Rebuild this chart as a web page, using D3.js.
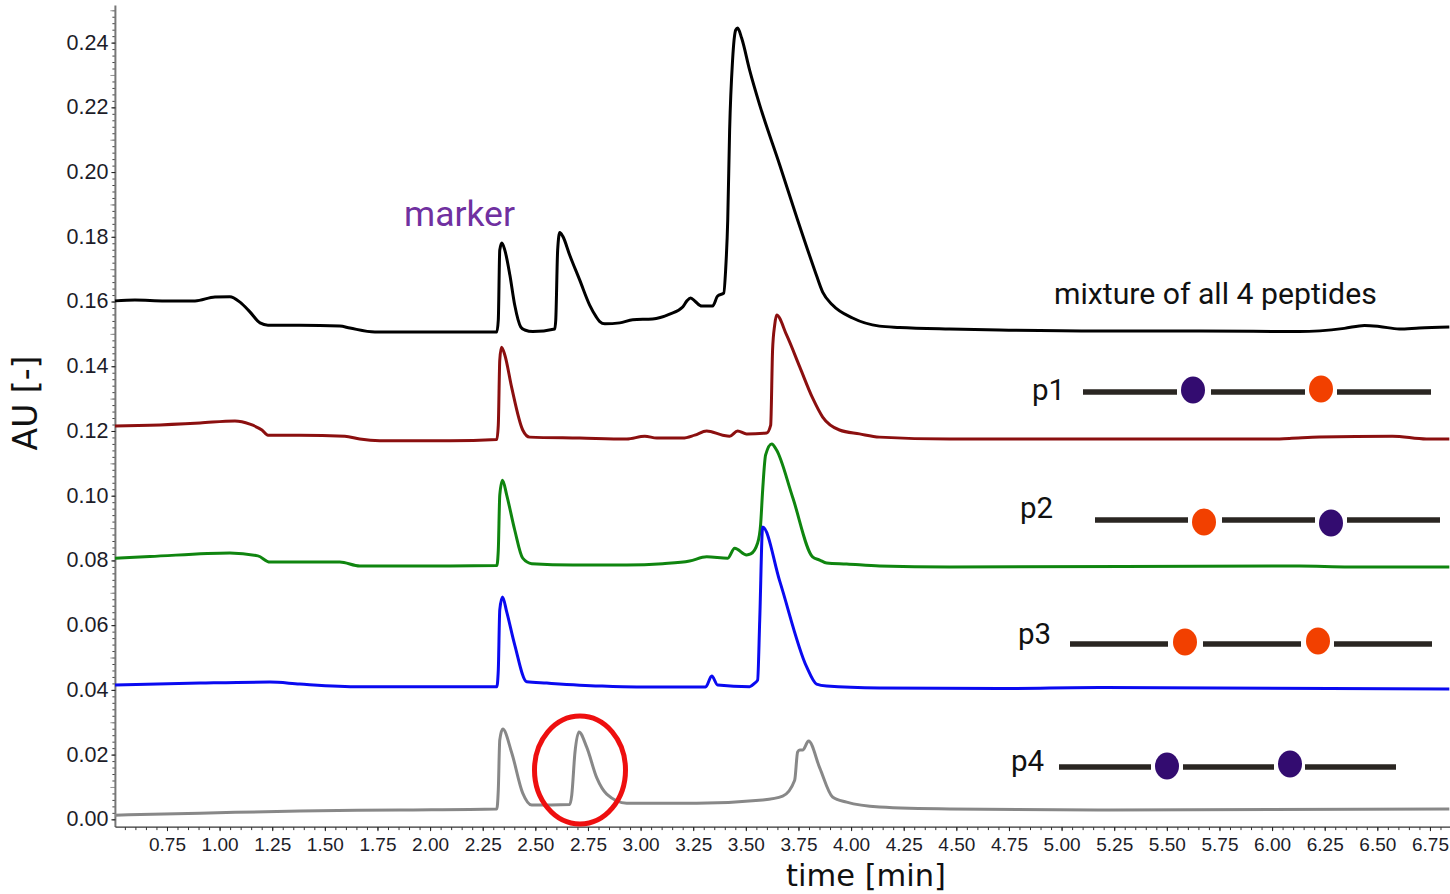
<!DOCTYPE html>
<html>
<head>
<meta charset="utf-8">
<script src="https://d3js.org/d3.v7.min.js"></script>
<style>
  html, body { margin: 0; background: #fff; }
  svg { display: block; }
  .note { font-family: Roboto, sans-serif; fill: #111; }
  .tick text { font-family: "Liberation Sans", Arial, sans-serif; fill: #1c1c28; }
</style>
</head>
<body>
<div id="chart"></div>
<script>
// Retention times (min) and absorbance (AU), one pair of arrays per trace
const mixTime = [0.503,0.598,0.740,0.883,0.978,1.049,1.097,1.144,1.192,1.230,1.381,1.571,1.619,1.738,2.094,2.317,2.324,2.331,2.341,2.355,2.379,2.402,2.431,2.450,2.488,2.592,2.597,2.606,2.616,2.630,2.663,2.711,2.758,2.790,2.806,2.830,2.901,2.963,3.057,3.138,3.200,3.220,3.238,3.260,3.290,3.342,3.366,3.395,3.404,3.414,3.423,3.437,3.452,3.461,3.480,3.518,3.566,3.661,3.746,3.827,3.865,3.912,4.007,4.135,4.230,4.468,4.705,5.180,5.655,6.130,6.343,6.439,6.509,6.604,6.699,6.842];
const mixAU = [0.1602,0.1605,0.1602,0.1602,0.1614,0.1615,0.1598,0.1568,0.1534,0.1527,0.1527,0.1524,0.1518,0.1506,0.1506,0.1506,0.1543,0.1759,0.1781,0.1759,0.1682,0.1589,0.1521,0.1512,0.1507,0.1515,0.1543,0.1759,0.1813,0.1802,0.1744,0.1666,0.1589,0.1552,0.1538,0.1531,0.1534,0.1544,0.1546,0.1561,0.1583,0.1602,0.1611,0.1600,0.1586,0.1586,0.1617,0.1626,0.1697,0.1852,0.2130,0.2346,0.2439,0.2445,0.2414,0.2315,0.2207,0.2022,0.1852,0.1697,0.1629,0.1589,0.1549,0.1524,0.1520,0.1515,0.1512,0.1509,0.1509,0.1507,0.1517,0.1526,0.1523,0.1515,0.1518,0.1521];

const p1Time = [0.503,0.669,0.907,1.073,1.144,1.201,1.230,1.381,1.595,1.666,1.761,2.094,2.317,2.324,2.331,2.339,2.355,2.388,2.440,2.473,2.711,2.934,3.020,3.077,3.200,3.257,3.314,3.390,3.423,3.461,3.504,3.599,3.618,3.627,3.637,3.646,3.694,3.756,3.817,3.865,3.945,4.040,4.135,4.468,4.705,5.987,6.082,6.225,6.571,6.733,6.842];
const p1AU = [0.1215,0.1218,0.1225,0.1231,0.1221,0.1203,0.1187,0.1187,0.1184,0.1175,0.1170,0.1170,0.1174,0.1218,0.1419,0.1459,0.1435,0.1333,0.1203,0.1181,0.1178,0.1175,0.1184,0.1178,0.1178,0.1187,0.1200,0.1187,0.1184,0.1200,0.1191,0.1194,0.1218,0.1450,0.1527,0.1558,0.1496,0.1398,0.1302,0.1243,0.1203,0.1191,0.1181,0.1175,0.1175,0.1175,0.1177,0.1181,0.1184,0.1175,0.1175];

const p2Time = [0.503,0.669,1.049,1.182,1.239,1.571,1.666,2.094,2.317,2.324,2.331,2.344,2.364,2.402,2.440,2.483,2.678,2.934,3.105,3.233,3.314,3.414,3.447,3.504,3.523,3.556,3.570,3.580,3.594,3.623,3.646,3.722,3.817,3.851,3.884,3.979,4.135,4.468,6.130,6.367,6.842];
const p2AU = [0.0807,0.0812,0.0823,0.0814,0.0795,0.0795,0.0783,0.0783,0.0784,0.0832,0.1002,0.1048,0.1002,0.0894,0.0807,0.0790,0.0786,0.0786,0.0790,0.0798,0.0811,0.0807,0.0838,0.0817,0.0820,0.0854,0.0909,0.1018,0.1126,0.1160,0.1141,0.0996,0.0811,0.0801,0.0792,0.0789,0.0783,0.0780,0.0783,0.0780,0.0780];

const p3Time = [0.503,0.907,1.239,1.381,1.666,2.317,2.324,2.331,2.344,2.364,2.402,2.459,2.554,2.806,2.982,3.309,3.338,3.366,3.518,3.542,3.556,3.566,3.580,3.661,3.789,3.836,3.884,4.135,4.705,5.180,6.842];
const p3AU = [0.0415,0.0421,0.0424,0.0418,0.0410,0.0410,0.0461,0.0647,0.0687,0.0641,0.0539,0.0425,0.0421,0.0412,0.0409,0.0409,0.0443,0.0415,0.0410,0.0421,0.0430,0.0616,0.0903,0.0736,0.0471,0.0418,0.0412,0.0406,0.0404,0.0407,0.0403];

const p4Time = [0.503,0.907,1.381,1.856,2.317,2.324,2.331,2.345,2.388,2.440,2.483,2.664,2.673,2.688,2.707,2.744,2.792,2.839,2.934,3.266,3.580,3.675,3.732,3.746,3.756,3.770,3.798,3.851,3.912,3.979,4.135,4.468,5.180,6.842];
const p4AU = [0.0013,0.0019,0.0026,0.0029,0.0032,0.0091,0.0245,0.0279,0.0205,0.0081,0.0044,0.0046,0.0075,0.0205,0.0270,0.0223,0.0128,0.0078,0.0050,0.0050,0.0060,0.0072,0.0121,0.0208,0.0214,0.0214,0.0242,0.0159,0.0069,0.0053,0.0038,0.0032,0.0029,0.0032];

const traceNames = ['mixture of all 4 peptides', 'p1', 'p2', 'p3', 'p4'];
const traceColors = ['#000000', '#8b0f0f', '#0f850f', '#0a0af0', '#888888'];
const traceTimes = [mixTime, p1Time, p2Time, p3Time, p4Time];
const traceAUs = [mixAU, p1AU, p2AU, p3AU, p4AU];

const xTickValues = d3.range(3, 28).map(d => d * 0.25);
const yTickValues = d3.range(0, 13).map(d => d * 0.02);

const width = 1450, height = 894;
const margin = {top: 5.4, left: 115.4, bottom: 66.9, right: -1};

const svg = d3.select('#chart').append('svg')
    .attr('width', width)
    .attr('height', height);

const x = d3.scaleLinear().domain([0.505, 6.85]).range([margin.left, width - margin.right]);
const y = d3.scaleLinear().domain([-0.0024, 0.2515]).range([height - margin.bottom, margin.top]);

// Minor ticks first so the labelled ones sit on top
svg.append('g')
    .attr('transform', `translate(${margin.left},0)`)
    .call(d3.axisLeft(y).tickValues(d3.range(0, 126).map(d => d * 0.002)).tickSize(3).tickFormat(''))
    .call(g => g.selectAll('line').attr('stroke', '#444'))
    .call(g => g.select('.domain').remove());

svg.append('g')
    .attr('transform', `translate(${margin.left},0)`)
    .call(d3.axisLeft(y).tickValues(d3.range(0, 13).map(d => 0.01 + d * 0.02)).tickSize(5).tickFormat(''))
    .call(g => g.selectAll('line').attr('stroke', '#999'))
    .call(g => g.select('.domain').remove());

svg.append('g')
    .attr('transform', `translate(0,${height - margin.bottom})`)
    .call(d3.axisBottom(x).tickValues(d3.range(11, 137).map(d => d * 0.05)).tickSize(3).tickFormat(''))
    .call(g => g.selectAll('line').attr('stroke', '#333'))
    .call(g => g.select('.domain').remove());

const yAxis = svg.append('g')
    .attr('transform', `translate(${margin.left},0)`)
    .call(d3.axisLeft(y).tickValues(yTickValues).tickSize(4).tickPadding(3).tickFormat(d3.format('.2f')));
yAxis.selectAll('text').attr('font-size', 21.5).attr('dy', '0.3em');
yAxis.selectAll('line').attr('stroke', '#222');
yAxis.select('.domain').attr('stroke', '#777').attr('stroke-width', 2).attr('d', `M0,${height - margin.bottom}V${margin.top}`);

const xAxis = svg.append('g')
    .attr('transform', `translate(0,${height - margin.bottom})`)
    .call(d3.axisBottom(x).tickValues(xTickValues).tickSize(4).tickPadding(6).tickFormat(d3.format('.2f')));
xAxis.selectAll('text').attr('font-size', 19);
xAxis.selectAll('line').attr('stroke', '#222');
xAxis.select('.domain').attr('stroke', '#333').attr('stroke-width', 1.3).attr('d', `M${margin.left},0H${width}`);

// Traces
const line = d3.line()
    .x(d => x(d.t))
    .y(d => y(d.v))
    .curve(d3.curveMonotoneX);

traceNames.forEach((name, i) => {
    const points = traceTimes[i].map((t, j) => ({t: t, v: traceAUs[i][j]}));
    svg.append('path')
        .datum(points)
        .attr('class', 'trace')
        .attr('fill', 'none')
        .attr('stroke', traceColors[i])
        .attr('stroke-width', 3)
        .attr('stroke-linejoin', 'round')
        .attr('d', line);
});

// Axis titles and annotations
svg.append('text').attr('x', 866).attr('y', 886).attr('text-anchor', 'middle')
    .attr('font-family', '"DejaVu Sans", sans-serif').attr('font-size', 30.5).attr('fill', '#111')
    .text('time [min]');

svg.append('text').attr('transform', 'translate(37,403) rotate(-90)').attr('text-anchor', 'middle')
    .attr('font-family', '"DejaVu Sans", sans-serif').attr('font-size', 33).attr('fill', '#111')
    .text('AU [-]');

svg.append('text').attr('class', 'note').attr('x', 404).attr('y', 226)
    .attr('font-size', 35.5).style('fill', '#7030a0').text('marker');

svg.append('text').attr('class', 'note').attr('x', 1054).attr('y', 304)
    .attr('font-size', 30.2).text(traceNames[0]);

// Highlight around the p4 by-product peak
svg.append('ellipse')
    .attr('cx', 580).attr('cy', 770).attr('rx', 45.5).attr('ry', 54)
    .attr('fill', 'none').attr('stroke', '#ee0f0f').attr('stroke-width', 5);

// Peptide sketches: three bars and two residues
const purple = '#330c70', orange = '#f24000';
const sketches = [
    {name: 'p1', lx: 1032, ly: 400, y: 392, bars: [[1083, 1177], [1211, 1305], [1337, 1431]], dots: [[1193, 390, purple], [1321, 389, orange]]},
    {name: 'p2', lx: 1020, ly: 518, y: 520, bars: [[1095, 1188], [1222, 1315], [1347, 1440]], dots: [[1204, 522, orange], [1331, 523, purple]]},
    {name: 'p3', lx: 1018, ly: 644, y: 644, bars: [[1070, 1168], [1203, 1301], [1334, 1432]], dots: [[1185, 642, orange], [1318, 641, orange]]},
    {name: 'p4', lx: 1011, ly: 771, y: 767, bars: [[1059, 1151], [1183, 1274], [1305, 1396]], dots: [[1167, 766, purple], [1290, 764, purple]]}
];

sketches.forEach(s => {
    const g = svg.append('g');
    g.append('text').attr('class', 'note').attr('x', s.lx).attr('y', s.ly).attr('font-size', 29.5).text(s.name);
    g.selectAll('line').data(s.bars).join('line')
        .attr('x1', d => d[0]).attr('x2', d => d[1])
        .attr('y1', s.y).attr('y2', s.y)
        .attr('stroke', '#2a2622').attr('stroke-width', 5.5);
    g.selectAll('ellipse').data(s.dots).join('ellipse')
        .attr('cx', d => d[0]).attr('cy', d => d[1])
        .attr('rx', 12).attr('ry', 13.5)
        .attr('fill', d => d[2]);
});
</script>
</body>
</html>
